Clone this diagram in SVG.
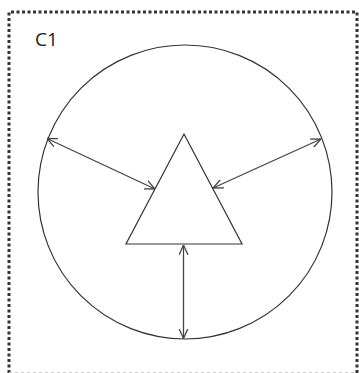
<svg xmlns="http://www.w3.org/2000/svg" width="359" height="373" viewBox="0 0 359 373">
<style>
.shape{fill:none;stroke:#333;stroke-width:1.2}
.conn{fill:none;stroke:#444;stroke-width:1.3;marker-start:url(#ah);marker-end:url(#ah)}
.frame{fill:none;stroke:#333;stroke-width:3;stroke-dasharray:3 2.5}
.lbl{font-family:"Open Sans","Liberation Sans",sans-serif;font-size:19px;fill:#222}
</style>
<defs>
<marker id="ah" viewBox="0 0 10 10" refX="10" refY="5" markerWidth="10" markerHeight="10" markerUnits="userSpaceOnUse" orient="auto-start-reverse">
<path d="M0,0.5 L10,5 L0,9.5" fill="none" stroke="#444" stroke-width="1.3"/>
</marker>
</defs>
<rect width="359" height="373" fill="#fff"/>
<g id="frame">
<path class="frame" d="M9,373 V12 H357 V373"/>
<line x1="9" y1="372.5" x2="357" y2="372.5" stroke="#ccc" stroke-width="1" stroke-dasharray="3 3"/>
<text class="lbl" x="35" y="46">C1</text>
</g>
<g id="circle">
<circle class="shape" cx="185" cy="192" r="147"/>
</g>
<g id="triangle">
<polygon class="shape" points="184,134 242,244 126,244"/>
</g>
<g id="connectors">
<line class="conn" x1="47" y1="138.5" x2="155" y2="189"/>
<line class="conn" x1="321" y1="139" x2="213" y2="188"/>
<line class="conn" x1="183.5" y1="245" x2="183.5" y2="338.5"/>
</g>
</svg>
